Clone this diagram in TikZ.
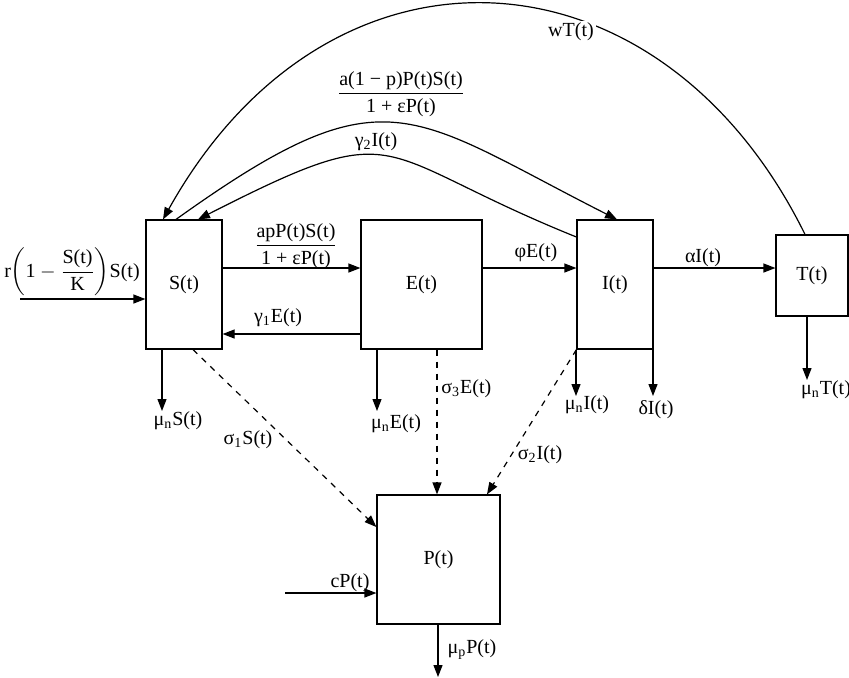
\documentclass[tikz,border=0pt]{standalone}
\usepackage{fontspec}
\setmainfont{Liberation Serif}
\usetikzlibrary{arrows.meta}

\tikzset{
  box/.style={draw, rectangle, inner sep=0pt, line width=0.6pt},
  flow/.style={-{Triangle[length=6pt,width=4.5pt]}, line width=0.6pt},
  leak/.style={flow, dashed},
  lbl/.style={inner sep=1pt}
}

\begin{document}
\begin{tikzpicture}[x=0.5pt, y=-0.5pt]

        % Frame
        \useasboundingbox (0,0) rectangle (849,677);

        % Compartments
        \node[box, minimum width=38pt, minimum height=64.5pt] (S) at (184,284.5) {S(t)};
        \node[box, minimum width=60.5pt, minimum height=64.5pt] (E) at (421.5,284.5) {E(t)};
        \node[box, minimum width=38pt, minimum height=64.5pt] (I) at (615,284.5) {I(t)};
        \node[box, minimum width=36pt, minimum height=40.5pt] (T) at (812,275.5) {T(t)};
        \node[box, minimum width=61.5pt, minimum height=64.5pt] (P) at (438.5,559.5) {P(t)};

        % Free ends
        \coordinate (rin) at (20,299);
        \coordinate (cin) at (285,593);
        \coordinate (dS) at (162,411);
        \coordinate (dE) at (377,411);
        \coordinate (dI) at (576,396);
        \coordinate (dD) at (653,396);
        \coordinate (dT) at (807,380);
        \coordinate (dP) at (438,677);

        % Flows between compartments
        \draw[flow] (rin) -- (S.west |- rin);
        \draw[flow] (S.east |- 0,268) -- (E.west |- 0,268);
        \draw[flow] (E.west |- 0,334) -- (S.east |- 0,334);
        \draw[flow] (E.east |- 0,268) -- (I.west |- 0,268);
        \draw[flow] (I.east |- 0,268) -- (T.west |- 0,268);
        \draw[flow] (cin) -- (P.west |- cin);

        % Curved returns
        \draw[flow] (S.north -| 176,0) .. controls (386,69) and (407,113) .. (I.north -| 617,0);
        \draw[flow] (I.west |- 0,237) .. controls (368,153) and (407,113) .. (S.north -| 198,0);
        \draw[flow] (T.north -| 805,0) .. controls (660,-60) and (330,-80) .. (S.north -| 163,0);

        % Losses
        \draw[flow] (S.south -| dS) -- (dS);
        \draw[flow] (E.south -| dE) -- (dE);
        \draw[flow] (I.south -| dI) -- (dI);
        \draw[flow] (I.south -| dD) -- (dD);
        \draw[flow] (T.south -| dT) -- (dT);
        \draw[flow] (P.south -| dP) -- (dP);

        % Uptake by P
        \draw[leak] (S.south -| 193,0) -- (P.west |- 0,527);
        \draw[leak] (E.south -| 437,0) -- (P.north -| 437,0);
        \draw[leak] (I.south west) -- (P.north -| 487,0);

        % Labels
        \node[lbl] at (72,272) {r$\left(\mbox{1}-\displaystyle\frac{\mbox{S(t)}}{\mbox{K}}\right)$S(t)};
        \node[lbl] at (296,246) {$\displaystyle\frac{\mbox{apP(t)S(t)}}{\mbox{1 + εP(t)}}$};
        \node[lbl] at (278,318) {γ\textsubscript{1}E(t)};
        \node[lbl] at (536,253) {φE(t)};
        \node[lbl] at (703,258) {αI(t)};
        \node[lbl] at (401,94) {$\displaystyle\frac{\mbox{a(1 − p)P(t)S(t)}}{\mbox{1 + εP(t)}}$};
        \node[lbl] at (376,142) {γ\textsubscript{2}I(t)};
        \node[lbl, fill=white] at (571,32) {wT(t)};
        \node[lbl] at (178,421) {μ\textsubscript{n}S(t)};
        \node[lbl] at (396,424) {μ\textsubscript{n}E(t)};
        \node[lbl] at (587,405) {μ\textsubscript{n}I(t)};
        \node[lbl] at (656,410) {δI(t)};
        \node[lbl] at (826,390) {μ\textsubscript{n}T(t)};
        \node[lbl] at (248,440) {σ\textsubscript{1}S(t)};
        \node[lbl, anchor=west] at (439,389) {σ\textsubscript{3}E(t)};
        \node[lbl] at (540,455) {σ\textsubscript{2}I(t)};
        \node[lbl] at (350,583) {cP(t)};
        \node[lbl] at (472,650) {μ\textsubscript{p}P(t)};

\end{tikzpicture}
\end{document}
